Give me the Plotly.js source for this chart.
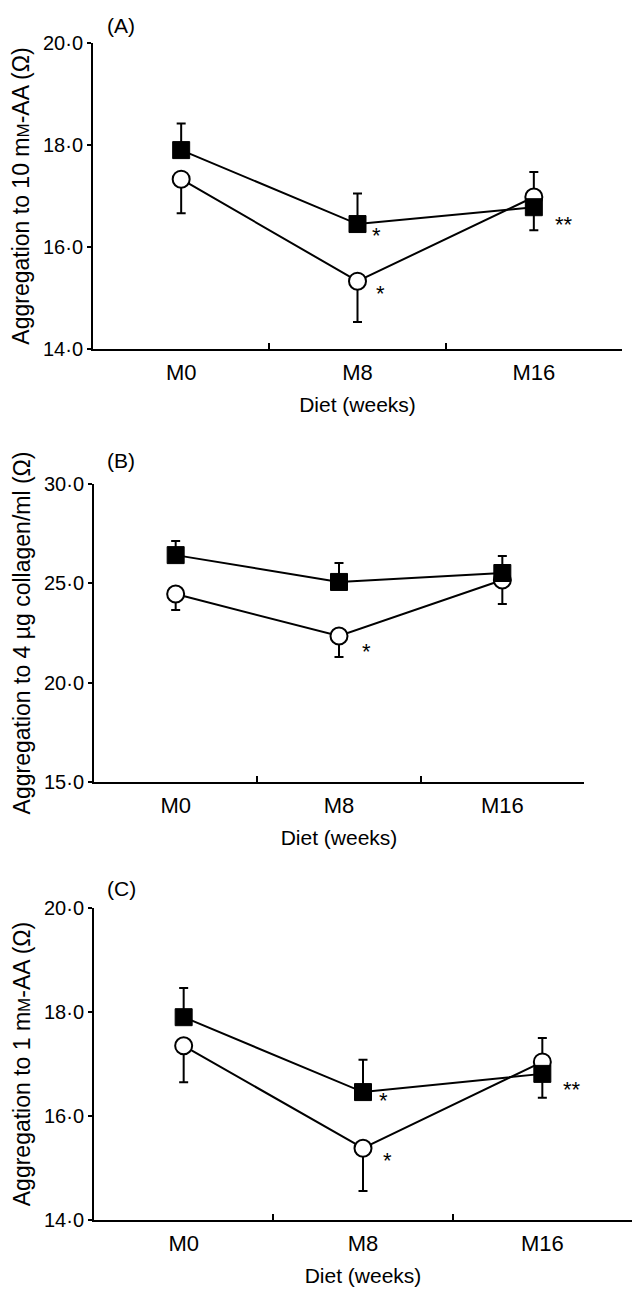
<!DOCTYPE html>
<html>
<head>
<meta charset="utf-8">
<script src="https://cdn.plot.ly/plotly-3.0.1.min.js"></script>
<style>html,body{margin:0;padding:0;background:#fff;}#chart{width:634px;height:1289px;}</style>
</head>
<body>
<div id="chart"></div>
<script>
// ---- data ----
var categories = ['M0', 'M8', 'M16'];

// Panel A: aggregation to 10 mM-AA
var squareA = [17.90, 16.45, 16.78];
var squareA_up = [0.52, 0.60, 0];
var squareA_down = [0, 0, 0.45];
var circleA = [17.33, 15.33, 16.98];
var circleA_up = [0, 0, 0.49];
var circleA_down = [0.67, 0.80, 0];

// Panel B: aggregation to 4 µg collagen/ml
var squareB = [26.42, 25.07, 25.52];
var squareB_up = [0.71, 0.95, 0.85];
var squareB_down = [0, 0, 0];
var circleB = [24.46, 22.35, 25.17];
var circleB_up = [0, 0, 0];
var circleB_down = [0.80, 1.06, 1.21];

// Panel C: aggregation to 1 mM-AA
var squareC = [17.90, 16.46, 16.81];
var squareC_up = [0.56, 0.62, 0];
var squareC_down = [0, 0, 0.46];
var circleC = [17.35, 15.38, 17.04];
var circleC_up = [0, 0, 0.46];
var circleC_down = [0.70, 0.82, 0];

var ticksA = [14, 16, 18, 20], tickTextA = ['14·0', '16·0', '18·0', '20·0'];
var ticksB = [15, 20, 25, 30], tickTextB = ['15·0', '20·0', '25·0', '30·0'];
var ticksC = [14, 16, 18, 20], tickTextC = ['14·0', '16·0', '18·0', '20·0'];

var titleA = 'Aggregation to 10 m<span style="font-size:17px">M</span>-AA (Ω)';
var titleB = 'Aggregation to 4 µg collagen/ml (Ω)';
var titleC = 'Aggregation to 1 m<span style="font-size:17px">M</span>-AA (Ω)';

// ---- build ----
var FONT = 'Liberation Sans, Arial, Helvetica, sans-serif';
var traces = [];
function addPanel(idx, sq, sqUp, sqDn, ci, ciUp, ciDn) {
  var xa = idx === 1 ? 'x' : 'x' + idx, ya = idx === 1 ? 'y' : 'y' + idx;
  traces.push({
    x: categories, y: ci, xaxis: xa, yaxis: ya, type: 'scatter', mode: 'lines+markers',
    line: {color: '#000', width: 2},
    marker: {symbol: 'circle', size: 17, color: '#fff', line: {color: '#000', width: 2}},
    error_y: {type: 'data', symmetric: false, array: ciUp, arrayminus: ciDn, color: '#000', thickness: 2, width: 4.5},
    cliponaxis: false
  });
  traces.push({
    x: categories, y: sq, xaxis: xa, yaxis: ya, type: 'scatter', mode: 'lines+markers',
    line: {color: '#000', width: 2},
    marker: {symbol: 'square', size: 17, color: '#000', line: {color: '#000', width: 1}},
    error_y: {type: 'data', symmetric: false, array: sqUp, arrayminus: sqDn, color: '#000', thickness: 2, width: 4.5},
    cliponaxis: false
  });
}
addPanel(1, squareA, squareA_up, squareA_down, circleA, circleA_up, circleA_down);
addPanel(2, squareB, squareB_up, squareB_down, circleB, circleB_up, circleB_down);
addPanel(3, squareC, squareC_up, squareC_down, circleC, circleC_up, circleC_down);

var H = 1289, W = 634;
function py(p) { return 1 - p / H; }
function px(p) { return p / W; }

function xAxis(d0, d1, anchor) {
  return {
    domain: [px(d0), px(d1)], anchor: anchor, type: 'category', range: [-0.5, 2.5],
    tickson: 'boundaries', ticks: 'inside', ticklen: 6, tickwidth: 2, tickcolor: '#000',
    showline: true, linewidth: 2, linecolor: '#000', showgrid: false, zeroline: false,
    tickfont: {family: FONT, size: 22, color: '#000'}, ticklabelstandoff: 3,
    title: {text: 'Diet (weeks)', font: {family: FONT, size: 21, color: '#000'}, standoff: 13},
    automargin: false, fixedrange: true
  };
}
function yAxis(d0, d1, anchor, range, tv, tt, title) {
  return {
    domain: [py(d1), py(d0)], anchor: anchor, range: range, tickvals: tv, ticktext: tt,
    ticks: 'outside', ticklen: 4, tickwidth: 2, tickcolor: '#000',
    showline: true, linewidth: 2, linecolor: '#000', showgrid: false, zeroline: false,
    tickfont: {family: FONT, size: 20, color: '#000'},
    title: {text: title, font: {family: FONT, size: 23, color: '#000'}, standoff: 7},
    automargin: false, fixedrange: true
  };
}

var annFont = {family: FONT, size: 22, color: '#000'};
function star(xr, yr, cat, val, text, dx, dy) {
  return {xref: xr, yref: yr, x: cat, y: val, text: text, showarrow: false, xanchor: 'center', yanchor: 'middle', xshift: dx, yshift: dy, font: annFont};
}
function label(text, xpix, ypix) {
  return {xref: 'paper', yref: 'paper', x: px(xpix), y: py(ypix), text: text, showarrow: false, xanchor: 'center', yanchor: 'middle', font: {family: FONT, size: 21, color: '#000'}};
}

var layout = {
  width: W, height: H, margin: {l: 0, r: 0, t: 0, b: 0},
  paper_bgcolor: '#fff', plot_bgcolor: '#fff', showlegend: false,
  font: {family: FONT, color: '#000'},
  xaxis: xAxis(93, 622, 'y'),
  yaxis: yAxis(43, 349, 'x', [14, 20], ticksA, tickTextA, titleA),
  xaxis2: xAxis(94, 584, 'y2'),
  yaxis2: yAxis(484, 782, 'x2', [15, 30], ticksB, tickTextB, titleB),
  xaxis3: xAxis(94, 632, 'y3'),
  yaxis3: yAxis(908, 1220, 'x3', [14, 20], ticksC, tickTextC, titleC),
  annotations: [
    label('(A)', 121, 25), label('(B)', 121, 460), label('(C)', 121, 888),
    star('x', 'y', categories[1], squareA[1], '*', 19, -11),
    star('x', 'y', categories[1], circleA[1], '*', 23, -12),
    star('x', 'y', categories[2], squareA[2], '**', 30, -17),
    star('x2', 'y2', categories[1], circleB[1], '*', 27, -16),
    star('x3', 'y3', categories[1], squareC[1], '*', 20, -8),
    star('x3', 'y3', categories[1], circleC[1], '*', 24, -12),
    star('x3', 'y3', categories[2], squareC[2], '**', 30, -16)
  ]
};

Plotly.newPlot('chart', traces, layout, {staticPlot: true, displayModeBar: false});
</script>
</body>
</html>
